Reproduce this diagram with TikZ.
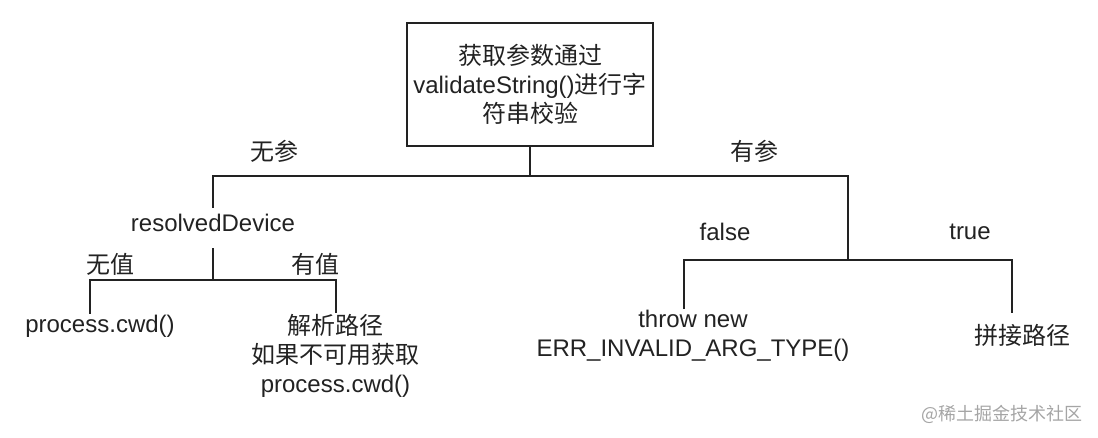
\documentclass[tikz,border=0pt]{standalone}
\usepackage{fontspec}
\setmainfont{Liberation Sans}
\newfontfamily\cjk{Noto Sans CJK SC}
\usepackage{tikz}
\usetikzlibrary{positioning, calc}
\definecolor{inkgray}{RGB}{34, 34, 34}
\definecolor{markgray}{RGB}{165, 165, 165}

\begin{document}
\begin{tikzpicture}[
  x=1pt, y=-1pt,
  checkbox/.style={draw=inkgray, line width=2.4pt, minimum width=246pt, minimum height=123pt, align=center, font=\fontsize{24}{29}\selectfont, text=inkgray},
  branchlbl/.style={font=\fontsize{24}{29}\selectfont, text=inkgray, inner sep=1pt},
  leaf/.style={font=\fontsize{24}{29}\selectfont, text=inkgray, align=center, inner sep=1pt},
  link/.style={draw=inkgray, line width=2pt}
]
\useasboundingbox (0,0) rectangle (1098,438);

% root check
\node[checkbox] (check) at (530,84.5) {{\cjk 获取参数通过}\\validateString(){\cjk 进行字}\\{\cjk 符串校验}};

% branch labels
\node[branchlbl] (noarg) at (274.5,151) {\cjk 无参};
\node[branchlbl] (hasarg) at (754,151) {\cjk 有参};
\node[branchlbl] (noval) at (110,264) {\cjk 无值};
\node[branchlbl] (hasval) at (315,264) {\cjk 有值};
\node[branchlbl] (falselbl) at (725,232) {false};
\node[branchlbl] (truelbl) at (970,232) {true};

% leaves
\node[leaf, inner sep=6pt] (resolved) at (213,223) {resolvedDevice};
\node[leaf] (cwd) at (100,326) {process.cwd()};
\node[leaf] (parse) at (335.5,356) {{\cjk 解析路径}\\{\cjk 如果不可用获取}\\process.cwd()};
\node[leaf] (throwerr) at (693,336) {throw new\\ERR\_INVALID\_ARG\_TYPE()};
\node[leaf, inner ysep=11pt] (join) at (1022,335) {\cjk 拼接路径};

% watermark
\node[font=\cjk\fontsize{18}{20}\selectfont, text=markgray] (mark) at (1002,414) {@稀土掘金技术社区};

% fork points
\coordinate (rootfork) at (530,176);
\coordinate (noargend) at (213,176);
\coordinate (hasargend) at (848,176);
\coordinate (devfork) at (213,280);
\coordinate (novalend) at (90,280);
\coordinate (hasvalend) at (336,280);
\coordinate (argfork) at (848,260);
\coordinate (falseend) at (684,260);
\coordinate (trueend) at (1012,260);

% connectors
\draw[link] (check.south) -- (rootfork);
\draw[link] (resolved.north) -- (noargend) -- (hasargend) -- (argfork);
\draw[link, shorten <=10pt] (resolved.south) -- (devfork);
\draw[link] (novalend |- cwd.north) -- (novalend) -- (hasvalend) -- (hasvalend |- parse.north);
\draw[link] (falseend |- throwerr.north) -- (falseend) -- (trueend) -- (trueend |- join.north);

\end{tikzpicture}
\end{document}
